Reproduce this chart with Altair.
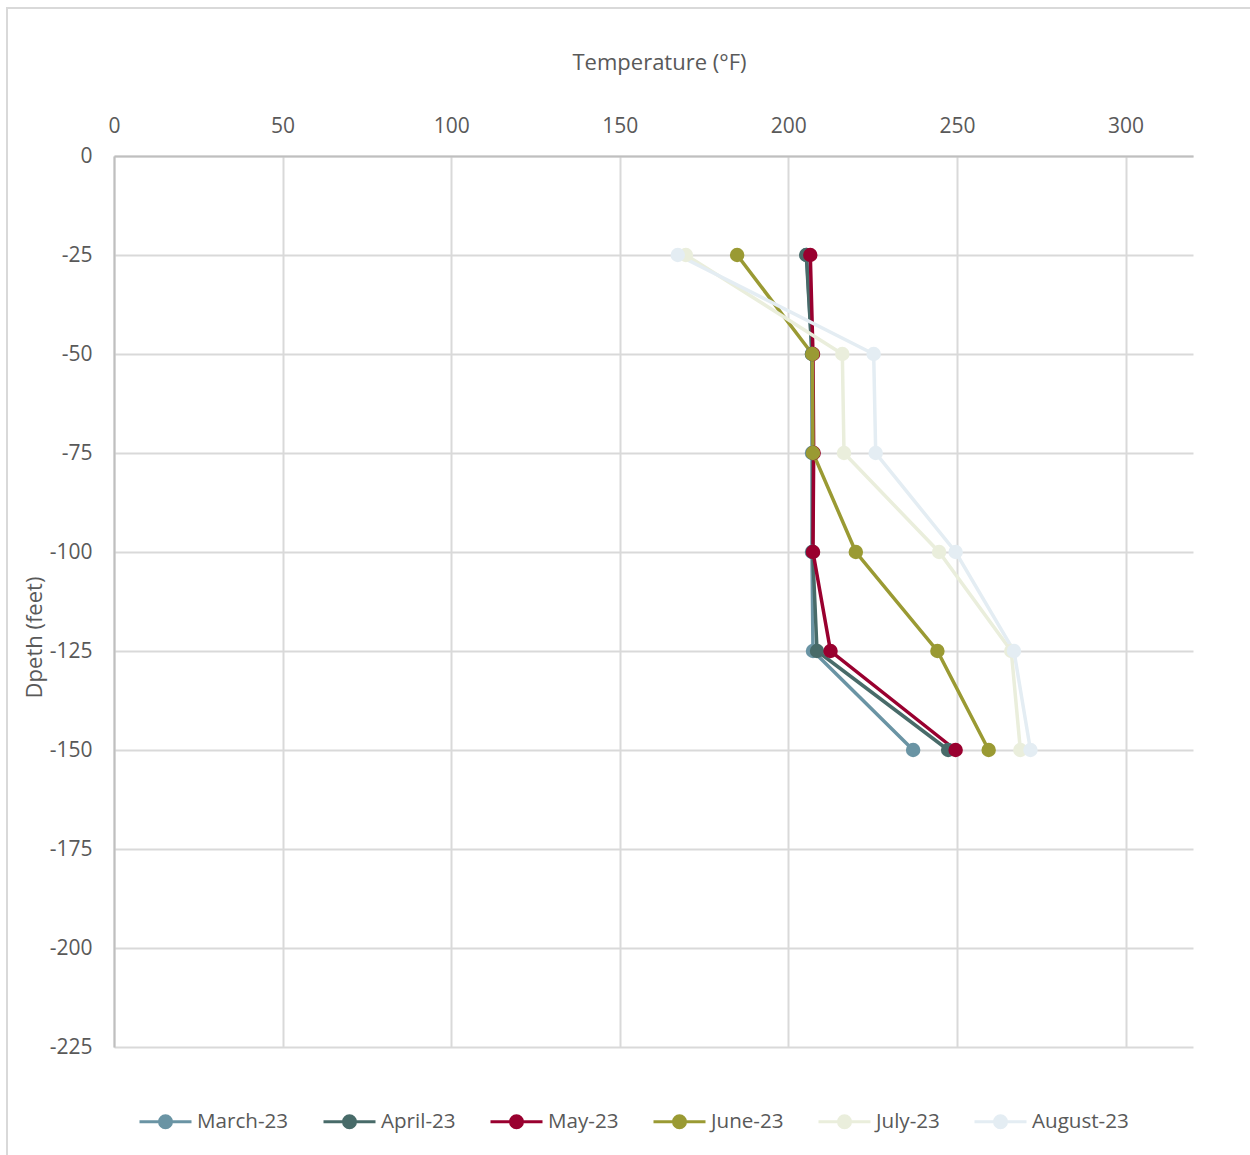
import altair as alt
import pandas as pd

series = ["March-23", "April-23", "May-23", "June-23", "July-23", "August-23"]
colors = ["#6A94A4", "#486B69", "#99002F", "#9A9A33", "#EAEEDC", "#E4EDF3"]
depths = [-25, -50, -75, -100, -125, -150]
march = [205.4, 207.0, 207.0, 207.0, 207.3, 237.0]
april = [205.3, 207.0, 207.3, 207.2, 208.5, 247.4]
may = [206.5, 207.3, 207.5, 207.3, 212.5, 249.6]
june = [184.8, 207.1, 207.3, 220.0, 244.2, 259.4]
july = [169.6, 216.0, 216.5, 244.7, 266.1, 268.8]
august = [167.2, 225.3, 225.9, 249.6, 266.9, 271.8]
x_ticks = [0, 50, 100, 150, 200, 250, 300]
y_ticks = [0, -25, -50, -75, -100, -125, -150, -175, -200, -225]

rows = []
for name, vals in zip(series, [march, april, may, june, july, august]):
    for d, v in zip(depths, vals):
        rows.append({"series": name, "depth": d, "temp": v})
df = pd.DataFrame(rows)

FONT = "Open Sans"
TXT = "#595959"

# custom legend symbol: horizontal line plus a "filled" circle built from rings
sym = ("M-1,0L1,0 "
       "M0.058,0A0.058,0.058 0 1,1 -0.058,0A0.058,0.058 0 1,1 0.058,0Z "
       "M0.154,0A0.154,0.154 0 1,1 -0.154,0A0.154,0.154 0 1,1 0.154,0Z "
       "M0.231,0A0.231,0.231 0 1,1 -0.231,0A0.231,0.231 0 1,1 0.231,0Z")

lines = alt.Chart(df).mark_line(
    strokeWidth=3.5,
    point=alt.OverlayMarkDef(filled=True, size=210, opacity=1),
).encode(
    x=alt.X("temp:Q",
            scale=alt.Scale(domain=[0, 320], nice=False, zero=False),
            axis=alt.Axis(orient="top", values=x_ticks, title="Temperature (°F)",
                          ticks=False, tickSize=0, labelPadding=20, labelFlush=False,
                          titleX=545, titleY=-94, titleBaseline="middle",
                          titleAlign="center", domainColor="#BFBFBF", domainWidth=2)),
    y=alt.Y("depth:Q",
            scale=alt.Scale(domain=[-225, 0], nice=False, zero=False),
            axis=alt.Axis(values=y_ticks, title="Dpeth (feet)",
                          labelExpr="toString(datum.value)",
                          ticks=False, tickSize=0, labelPadding=22, labelFlush=False,
                          titleX=-80, titleY=481, titleBaseline="middle",
                          titleAlign="center", titleAngle=270,
                          domainColor="#BFBFBF", domainWidth=2)),
    color=alt.Color("series:N",
                    scale=alt.Scale(domain=series, range=colors),
                    legend=alt.Legend(orient="none", direction="horizontal",
                                      columns=6, title=None, legendX=24, legendY=938,
                                      symbolType=sym, symbolSize=2704,
                                      symbolStrokeWidth=3, columnPadding=28,
                                      labelOffset=4, labelFontSize=20.6,
                                      labelFont=FONT, labelColor=TXT)),
    order=alt.Order("depth:Q", sort="descending"),
    detail="series:N",
)

border = alt.Chart(pd.DataFrame({"a": [0]})).mark_rect(
    fill="transparent", stroke="#D9D9D9", strokeWidth=2
).encode(
    x=alt.value(-107), x2=alt.value(1300),
    y=alt.value(-148), y2=alt.value(1100),
)

chart = alt.layer(border, lines).properties(
    width=1079, height=891,
    autosize=alt.AutoSizeParams(type="none"),
    padding={"left": 114, "top": 156, "right": 57, "bottom": 108},
    background="white",
).configure_view(strokeWidth=0).configure_axis(
    labelFont=FONT, titleFont=FONT, labelFontSize=21, titleFontSize=22,
    labelColor=TXT, titleColor=TXT, titleFontWeight="normal",
    gridColor="#D9D9D9", gridWidth=2,
)

chart.save("out.html", embed_options={"renderer": "svg", "actions": False})
